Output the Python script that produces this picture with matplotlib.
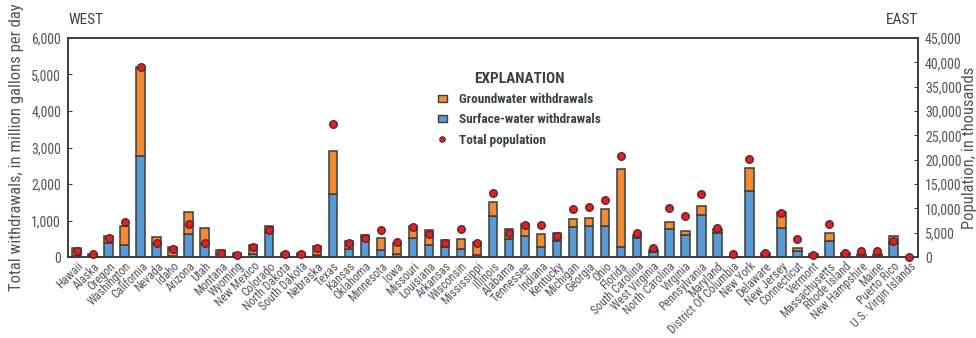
import matplotlib
matplotlib.use("Agg")
import matplotlib.pyplot as plt
from matplotlib import font_manager
import numpy as np
from matplotlib.patches import Patch
from matplotlib.lines import Line2D

# Pick a narrow sans-serif face for all chart text
available = {f.name for f in font_manager.fontManager.ttflist}
preferred = ["Liberation Sans Narrow", "Roboto Condensed", "Open Sans Condensed",
             "Archivo Narrow", "PT Sans Narrow", "Fira Sans Condensed",
             "IBM Plex Sans Condensed", "Encode Sans Condensed", "Barlow Condensed"]
face = next((p for p in preferred if p in available), None)
if face is None:
    cond = sorted(n for n in available if "Condensed" in n and "Semi" not in n
                  and "Extra" not in n and "Ultra" not in n)
    face = cond[0] if cond else "Liberation Sans"
plt.rcParams['font.family'] = [face, 'DejaVu Sans']

states = ["Hawaii", "Alaska", "Oregon", "Washington", "California", "Nevada", "Idaho",
          "Arizona", "Utah", "Montana", "Wyoming", "New Mexico", "Colorado",
          "North Dakota", "South Dakota", "Nebraska", "Texas", "Kansas", "Oklahoma",
          "Minnesota", "Iowa", "Missouri", "Louisiana", "Arkansas", "Wisconsin",
          "Mississippi", "Illinois", "Alabama", "Tennessee", "Indiana", "Kentucky",
          "Michigan", "Georgia", "Ohio", "Florida", "South Carolina", "West Virginia",
          "North Carolina", "Virginia", "Pennsylvania", "Maryland",
          "District Of Columbia", "New York", "Delaware", "New Jersey", "Connecticut",
          "Vermont", "Massachusetts", "Rhode Island", "New Hampshire", "Maine",
          "Puerto Rico", "U.S. Virgin Islands"]

# Withdrawals, in million gallons per day
surface_water = [15, 50, 393, 327, 2770, 370, 30, 626, 350, 90, 60, 75, 680,
                 60, 60, 60, 1729, 220, 560, 190, 70, 514, 327, 262, 215,
                 65, 1121, 486, 579, 262, 439, 822, 841, 860, 280, 514, 140,
                 766, 607, 1159, 654, 0, 1822, 60, 794, 168, 40, 449, 80,
                 40, 40, 393, 0]
groundwater = [237, 30, 187, 533, 2440, 191, 250, 608, 444, 97, 52, 252, 161,
               52, 52, 248, 1180, 220, 47, 324, 304, 327, 402, 205, 271,
               355, 393, 280, 337, 364, 215, 206, 234, 448, 2131, 93, 47,
               187, 94, 243, 122, 0, 627, 52, 440, 66, 35, 205, 32,
               35, 35, 186, 0]
# Total population, in thousands
population = [1330, 560, 4000, 7220, 39100, 2800, 1610, 6870, 2950, 910, 490,
              1960, 5540, 560, 700, 1890, 27300, 2950, 3850, 5540, 3150, 6170,
              4630, 2950, 5820, 2950, 13100, 4900, 6660, 6660, 4420, 9950,
              10300, 11800, 20700, 4900, 1750, 10160, 8400, 12970, 5890, 560,
              20100, 910, 9100, 3640, 490, 6870, 910, 1190, 1190, 3370, 100]

blue = "#5b9bd5"
orange = "#f08c35"
edge = "#3c3c3c"
red = "#d8232a"
txt = "#4f5560"
head = "#3a3f48"

fig = plt.figure(figsize=(9.76, 3.38), dpi=100)
ax = fig.add_axes([0.0697, 0.2396, 0.8709, 0.648])
x = np.arange(len(states))
w = 0.55
ax.bar(x, surface_water, w, color=blue, edgecolor=edge, linewidth=1.1, zorder=2)
ax.bar(x, groundwater, w, bottom=surface_water, color=orange, edgecolor=edge,
       linewidth=1.1, zorder=2)
ax.set_xlim(-0.55, len(states) - 0.45)
ax.set_ylim(0, 6000)
ax.set_yticks(np.arange(0, 6001, 1000))
ax.set_yticklabels([f"{v:,}" for v in range(0, 6001, 1000)])
ax.set_xticks(x)
ax.set_xticklabels(states, rotation=45, ha='right', rotation_mode='anchor',
                   fontsize=8.6, color=txt)
ax.tick_params(axis='x', length=0, pad=2)
ax.tick_params(axis='y', direction='in', length=3, labelsize=10, labelcolor=txt,
               color=edge, pad=5)
ax.set_ylabel("Total withdrawals, in million gallons per day", fontsize=12,
              color=txt)
ax.yaxis.set_label_coords(-0.052, 0.5)
for s in ax.spines.values():
    s.set_color(edge)
    s.set_linewidth(1.2)

ax2 = ax.twinx()
ax2.set_ylim(0, 45000)
ax2.set_yticks(np.arange(0, 45001, 5000))
ax2.set_yticklabels([f"{v:,}" for v in range(0, 45001, 5000)])
ax2.tick_params(axis='y', direction='in', length=3, labelsize=10, labelcolor=txt,
                color=edge, pad=5)
ax2.set_ylabel("Population, in thousands", fontsize=12, color=txt,
               rotation=90, va='center', ha='center')
ax2.yaxis.set_label_coords(1.06, 0.5)
ax2.plot(x, population, linestyle='none', marker='o', markersize=5.5,
         markerfacecolor=red, markeredgecolor="#5a2020", markeredgewidth=0.9,
         zorder=3, clip_on=False)
for s in ax2.spines.values():
    s.set_color(edge)
    s.set_linewidth(1.2)

fig.text(0.0697, 0.94, "WEST", fontsize=11, color=head, ha='left', va='center')
fig.text(0.9406, 0.94, "EAST", fontsize=11, color=head, ha='right', va='center')

handles = [Patch(facecolor=orange, edgecolor=edge, linewidth=1.0),
           Patch(facecolor=blue, edgecolor=edge, linewidth=1.0),
           Line2D([], [], linestyle='none', marker='o', markersize=4,
                  markerfacecolor=red, markeredgecolor="#5a2020", markeredgewidth=0.7)]
leg = ax2.legend(handles, ["Groundwater withdrawals", "Surface-water withdrawals",
                           "Total population"],
                 title="EXPLANATION", loc='upper left', bbox_to_anchor=(0.421, 0.90),
                 frameon=False, handlelength=0.7, handleheight=0.45,
                 handletextpad=0.9, labelspacing=0.55,
                 prop={'size': 9.5, 'weight': 'bold'},
                 title_fontproperties={'size': 11, 'weight': 'bold'})
leg.get_title().set_color(head)
for t in leg.get_texts():
    t.set_color(head)

fig.savefig("out.png", dpi=100)
